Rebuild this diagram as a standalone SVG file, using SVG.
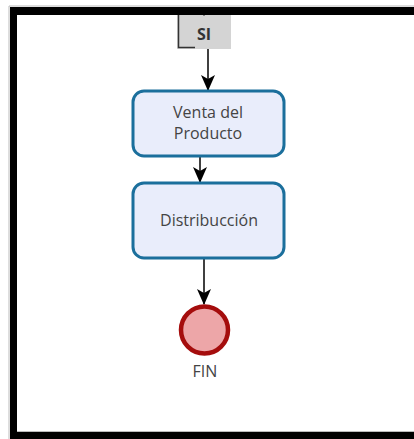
<svg xmlns="http://www.w3.org/2000/svg" width="414" height="439" viewBox="0 0 414 439">
  <style>
    .task rect { fill: #e9edfb; stroke: #1b6f9c; stroke-width: 3; }
    .label { font-family: "Open Sans", "Noto Sans", sans-serif; font-size: 16px; fill: #444; text-anchor: middle; }
    .flow { stroke: #000; stroke-width: 1.5; fill: none; marker-end: url(#arrow); }
  </style>
  <defs>
    <marker id="arrow" viewBox="0 0 16 14" markerWidth="16" markerHeight="14" refX="15" refY="7" orient="auto" markerUnits="userSpaceOnUse">
      <path d="M0,0 L16,7 L0,14 L4,7 z" fill="#000"/>
    </marker>
  </defs>

  <!-- page background -->
  <rect x="0" y="0" width="414" height="439" fill="#fff"/>

  <!-- gateway label "SI" -->
  <g id="gateway-si">
    <rect x="177" y="15" width="54" height="34" fill="#d4d4d4"/>
    <path d="M178.5,15 V47.5 H195" stroke="#333" stroke-width="1.5" fill="none"/>
    <text x="204" y="40" font-family="Open Sans, Noto Sans, sans-serif" font-size="16" font-weight="bold" fill="#333" text-anchor="middle">SI</text>
  </g>

  <!-- connectors -->
  <g id="connectors">
    <path d="M204,8 V15" stroke="#000" stroke-width="1.5"/>
    <path d="M201,12 L204,16 L207,12 z" fill="#000"/>
    <line class="flow" x1="208" y1="49" x2="208" y2="90"/>
    <line class="flow" x1="200" y1="157" x2="200" y2="182"/>
    <line class="flow" x1="204" y1="258" x2="204" y2="304"/>
  </g>

  <!-- task: Venta del Producto -->
  <g id="task-venta" class="task">
    <rect x="133" y="91" width="151" height="65" rx="11" ry="11"/>
    <text class="label" x="208" y="118">Venta del</text>
    <text class="label" x="208" y="139">Producto</text>
  </g>

  <!-- task: Distribucción -->
  <g id="task-distribuccion" class="task">
    <rect x="133" y="183" width="151" height="75" rx="11" ry="11"/>
    <text class="label" x="209" y="226">Distribucción</text>
  </g>

  <!-- end event -->
  <g id="end-fin">
    <circle cx="204.5" cy="330" r="23.5" fill="#eda6a8" stroke="#a50d0d" stroke-width="4.5"/>
    <text class="label" x="205" y="377">FIN</text>
  </g>

  <!-- page frame -->
  <g id="frame">
    <path d="M9,439 V6 H414" stroke="#bbb" stroke-width="1" fill="none"/>
    <rect x="10" y="7" width="404" height="8" fill="#000"/>
    <rect x="10" y="7" width="7" height="432" fill="#000"/>
    <line x1="17" y1="431.5" x2="414" y2="431.5" stroke="#bbb" stroke-width="1"/>
    <rect x="10" y="432" width="404" height="7" fill="#000"/>
  </g>
</svg>
